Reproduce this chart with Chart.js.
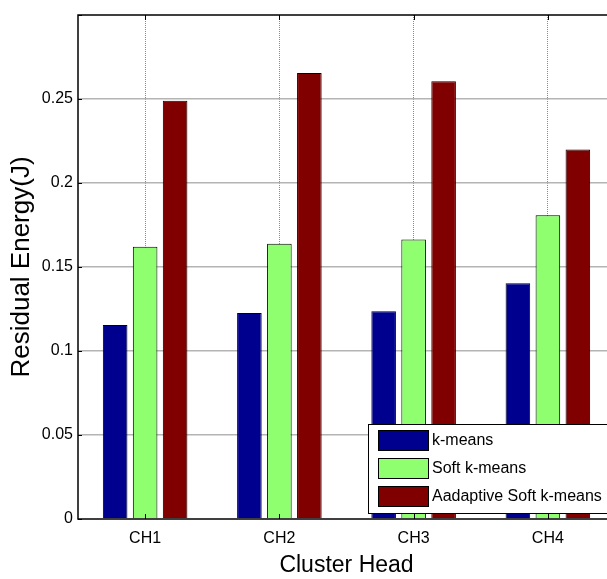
<!DOCTYPE html>
<html>
<head>
<meta charset="utf-8">
<script src="https://cdn.jsdelivr.net/npm/chart.js@4/dist/chart.umd.min.js"></script>
<style>
  body { margin: 0; overflow: hidden; background: #fff; }
  #wrap { width: 620px; height: 579px; }
</style>
</head>
<body>
<div id="wrap"><canvas id="chart1"></canvas></div>
<script>
// Datos del gráfico
const categories = ['CH1', 'CH2', 'CH3', 'CH4']
const kMeans = [0.1155, 0.1226, 0.1236, 0.1403]
const softKMeans = [0.162, 0.1639, 0.1663, 0.1808]
const adaptiveSoftKMeans = [0.249, 0.2655, 0.2605, 0.2200]
const yTicks = [0, 0.05, 0.1, 0.15, 0.2, 0.25, 0.3]

const seriesNames = ['k-means', 'Soft k-means', 'Aadaptive Soft k-means']
const seriesColors = ['#00008F', '#8FFF70', '#800000']

const sans = "'Liberation Sans', Arial, sans-serif"

Chart.defaults.color = '#000'

// Marco de ejes, marcas de ticks y leyenda dentro del área
const boxPlugin = {
    id: 'box',
    afterDatasetsDraw(chart) {
        const { ctx, chartArea: a, scales } = chart
        ctx.save()
        ctx.strokeStyle = '#000'
        ctx.lineWidth = 1.5
        ctx.strokeRect(a.left, a.top, a.right - a.left, a.bottom - a.top)

        ctx.lineWidth = 1
        yTicks.forEach(v => {
            const y = Math.round(scales.y.getPixelForValue(v)) + 0.5
            ctx.beginPath()
            ctx.moveTo(a.left, y); ctx.lineTo(a.left + 4, y)
            ctx.stroke()
        })
        categories.forEach((c, i) => {
            const x = Math.round(scales.x.getPixelForValue(i)) + 0.5
            ctx.beginPath()
            ctx.moveTo(x, a.top); ctx.lineTo(x, a.top + 5)
            ctx.moveTo(x, a.bottom); ctx.lineTo(x, a.bottom - 5)
            ctx.stroke()
        })
        ctx.restore()
    },
    afterDraw(chart) {
        const { ctx } = chart
        const left = 368, top = 424, width = 260, height = 89
        ctx.save()
        ctx.fillStyle = '#fff'
        ctx.fillRect(left, top, width, height)
        ctx.strokeStyle = '#000'
        ctx.lineWidth = 1
        ctx.strokeRect(left + 0.5, top + 0.5, width, height)
        ctx.font = "16px " + sans
        ctx.textBaseline = 'middle'
        chart.data.datasets.forEach((ds, i) => {
            const y = top + 6 + i * 28
            ctx.fillStyle = ds.backgroundColor
            ctx.fillRect(378, y, 50, 20)
            ctx.strokeRect(378.5, y + 0.5, 50, 20)
            ctx.fillStyle = '#000'
            ctx.fillText(ds.label, 432, y + 11)
        })
        ctx.restore()
    }
}

const data = {
    labels: categories,
    datasets: [kMeans, softKMeans, adaptiveSoftKMeans].map((values, i) => ({
        label: seriesNames[i],
        data: values,
        backgroundColor: seriesColors[i],
        borderColor: '#000',
        borderWidth: 1,
        borderSkipped: 'bottom',
        categoryPercentage: 0.67,
        barPercentage: 0.82
    }))
}

const options = {
    responsive: true,
    maintainAspectRatio: false,
    animation: false,
    layout: { padding: { top: 15, right: 5, left: 0, bottom: 0 } },
    plugins: {
        legend: { display: false },
        tooltip: { enabled: false }
    },
    scales: {
        x: {
            offset: true,
            grid: {
                offset: false,
                drawTicks: false,
                color: '#8a8a8a',
                lineWidth: 1
            },
            border: { display: false, dash: [1, 1] },
            ticks: {
                padding: 10,
                font: { family: sans, size: 16 }
            },
            title: {
                display: true,
                text: 'Cluster Head',
                font: { family: sans, size: 23, lineHeight: 1 },
                padding: { top: 0, bottom: 2 }
            },
            afterFit(scale) { scale.height = 60 }
        },
        y: {
            min: 0,
            max: 0.3,
            afterBuildTicks(scale) { scale.ticks = yTicks.map(v => ({ value: v })) },
            grid: {
                drawTicks: false,
                lineWidth: 1.5,
                color: ctx => (ctx.tick && (ctx.tick.value === 0 || ctx.tick.value === 0.3)) ? 'rgba(0,0,0,0)' : '#b4b4b4'
            },
            border: { display: false },
            ticks: {
                padding: 5,
                font: { family: sans, size: 16 },
                callback: v => v === 0.3 ? '' : String(+v.toFixed(2))
            },
            title: {
                display: true,
                text: 'Residual Energy(J)',
                font: { family: sans, size: 26, lineHeight: 1 },
                padding: { top: 9, bottom: 0 }
            },
            afterFit(scale) { scale.width = 78 }
        }
    }
}

new Chart('chart1', { type: 'bar', data, options, plugins: [boxPlugin] })
</script>
</body>
</html>
